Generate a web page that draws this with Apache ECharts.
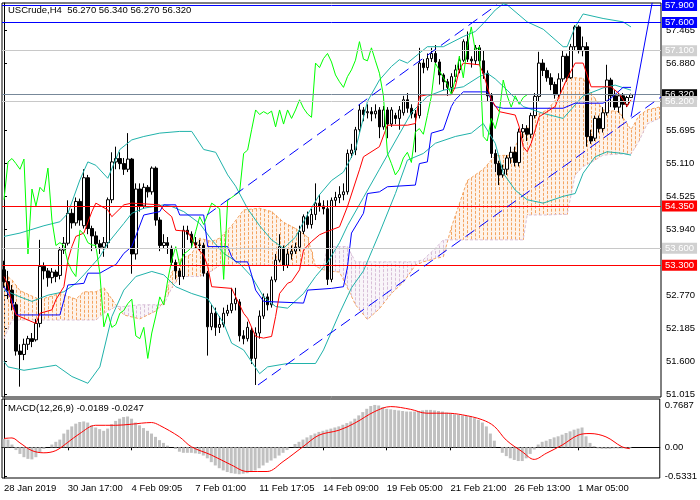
<!DOCTYPE html>
<html><head><meta charset="utf-8">
<script src="https://cdn.jsdelivr.net/npm/echarts@6/dist/echarts.min.js"></script>
<style>html,body{margin:0;padding:0;background:#fff}#c{width:700px;height:500px}</style>
</head><body><div id="c"></div>
<script>
// ---------- data ----------
const xLabels = ['28 Jan 2019','30 Jan 17:00','4 Feb 09:05','7 Feb 01:00','11 Feb 17:05','14 Feb 09:00','19 Feb 05:00','21 Feb 21:00','26 Feb 13:00','1 Mar 05:00'];
const open = [53.22,53.01,52.86,52.6,51.78,51.72,51.9,52.0,51.98,52.27,
53.28,53.2,53.08,53.18,53.12,53.57,53.69,54.22,54.05,54.43,
54.0,54.85,53.95,53.82,53.68,53.62,53.7,54.46,55.13,55.19,
55.1,55.0,55.18,53.5,54.65,54.35,54.68,54.6,55.02,54.1,
53.65,53.7,53.6,53.35,53.2,53.1,53.92,53.85,53.7,53.66,
53.65,53.16,52.21,52.45,52.2,52.25,52.45,52.5,52.62,52.65,
52.05,52.0,52.15,51.65,52.1,52.4,52.74,52.6,53.04,53.39,
53.6,53.3,53.5,53.55,53.62,53.9,54.16,54.02,54.2,54.4,
54.35,54.3,53.05,54.45,54.5,54.55,54.6,55.28,55.34,55.7,
56.05,56.0,56.02,55.98,56.05,55.75,56.05,55.8,55.95,55.9,
56.0,56.23,56.08,55.98,55.95,56.88,56.8,56.96,57.05,56.9,
56.67,56.55,56.45,56.64,56.76,56.93,57.26,56.95,56.92,57.15,
56.92,56.7,56.3,55.28,55.1,54.9,55.0,55.2,55.3,55.12,
55.66,55.72,55.62,55.95,56.29,56.88,56.75,56.62,56.5,56.32,
56.6,57.0,56.62,57.17,57.52,57.1,57.17,55.58,55.55,55.9,
55.72,56.0,56.58,56.3,56.1,56.3,56.15,56.27];
const close = [53.01,52.86,52.63,51.78,51.72,51.9,52.0,51.95,52.27,53.28,
53.2,53.08,53.18,53.1,53.57,53.69,54.22,54.05,54.43,54.1,
54.85,53.95,53.82,53.68,53.62,53.7,54.46,55.13,55.19,55.1,
55.0,55.18,53.5,54.65,54.35,54.68,54.6,55.02,54.1,53.65,
53.7,53.65,53.35,53.2,53.1,53.92,53.85,53.7,53.66,53.65,
53.16,52.21,52.45,52.2,52.25,52.45,52.5,52.62,52.7,52.05,
52.0,52.2,51.65,52.1,52.4,52.74,52.6,53.04,53.39,53.63,
53.3,53.5,53.55,53.62,53.9,54.16,54.02,54.2,54.4,54.35,
54.3,53.05,54.45,54.5,54.55,54.6,55.28,55.34,55.7,56.05,
55.97,56.02,55.98,56.03,55.75,56.05,55.8,56.05,55.9,56.05,
56.23,56.08,55.98,55.92,56.88,56.8,56.96,57.05,56.9,56.67,
56.55,56.45,56.64,56.76,56.93,57.26,56.95,56.92,57.15,56.92,
56.7,56.3,55.28,55.1,54.9,55.0,55.2,55.3,55.12,55.66,
55.72,55.62,55.95,56.29,56.88,56.75,56.62,56.5,56.32,56.6,
57.0,56.62,57.17,57.52,57.1,57.17,55.58,55.5,55.9,55.72,
56.0,56.58,56.3,56.1,56.3,56.15,56.27,56.32];
const high = [53.38,53.2,52.95,52.65,51.9,52.0,52.05,52.1,52.35,53.75,
53.35,53.25,53.25,53.22,53.62,53.8,54.45,54.3,54.5,54.48,
55.0,54.9,54.0,53.9,53.75,53.8,54.5,55.3,55.4,55.3,
55.2,55.64,55.2,54.75,54.75,54.75,54.72,55.05,55.05,54.15,
53.85,53.8,53.65,53.4,53.25,54.0,54.0,53.9,53.8,53.75,
53.7,53.2,52.6,52.55,52.4,52.55,52.6,52.9,52.9,52.7,
52.15,52.3,52.2,52.2,52.5,52.8,52.8,53.1,53.5,53.85,
53.65,53.6,53.65,53.7,54.0,54.2,54.25,54.3,54.75,54.55,
54.45,54.45,54.5,54.6,54.7,54.75,55.35,55.45,55.75,56.15,
56.1,56.15,56.1,56.15,56.1,56.12,56.1,56.1,56.0,56.12,
56.3,56.35,56.15,56.05,57.15,56.95,57.05,57.15,57.2,56.95,
56.7,56.6,56.7,56.85,57.0,57.3,57.44,57.0,57.2,57.2,
57.1,56.75,56.35,55.35,55.15,55.08,55.25,55.4,55.4,55.72,
55.8,55.78,56.0,56.35,57.08,56.95,56.8,56.7,56.55,56.7,
57.1,57.05,57.22,57.55,57.55,57.35,57.25,55.7,55.95,55.95,
56.1,56.85,56.62,56.4,56.35,56.35,56.3,56.34];
const low = [52.9,52.7,52.5,51.7,51.15,51.62,51.8,51.85,51.95,52.2,
53.05,52.92,52.98,53.0,53.05,53.5,53.65,53.95,54.0,54.0,
53.95,53.85,53.55,53.6,53.5,53.45,53.6,54.4,55.0,55.0,
54.9,54.95,53.15,53.4,54.25,54.3,54.5,54.55,54.0,53.55,
53.6,53.5,53.3,53.05,52.95,53.05,53.75,53.6,53.6,53.55,
53.1,51.7,52.15,52.05,52.1,52.2,52.4,52.45,52.5,51.95,
51.9,51.95,51.55,51.18,52.0,52.35,52.5,52.55,53.0,53.35,
53.2,53.25,53.4,53.5,53.55,53.85,53.95,53.95,54.1,54.25,
54.2,52.95,53.0,54.35,54.4,54.45,54.55,55.2,55.25,55.65,
55.85,55.9,55.85,55.9,55.55,55.7,55.55,55.75,55.8,55.7,
55.95,56.0,55.9,55.3,55.9,56.7,56.75,56.9,56.85,56.5,
56.4,56.3,56.35,56.55,56.7,56.9,56.9,56.8,56.85,56.85,
56.6,56.2,55.2,54.95,54.72,54.85,54.9,55.1,55.05,55.05,
55.55,55.5,55.55,55.9,56.2,56.65,56.55,56.4,56.25,56.28,
56.55,56.55,56.6,57.1,57.05,57.0,55.4,55.45,55.5,55.65,
55.65,55.95,56.1,56.05,56.0,55.9,56.1,56.27];

const bbUpper = [[0,53.81],[4,53.87],[10,54.0],[14,54.07],[16,54.22],[19,54.81],[21,55.13],[23,55.07],[26,54.84],[29,55.35],[32,55.52],[35,55.58],[39,55.64],[44,55.67],[47,55.67],[50,55.35],[53,55.3],[56,54.9],[58,54.7],[61,54.3],[64,54.0],[67,53.75],[70,53.6],[73,53.8],[76,54.2],[79,54.55],[82,54.8],[85,54.95],[88,55.35],[91,56.2],[94,56.58],[97,56.82],[99,56.94],[101,56.88],[106,57.17],[110,57.17],[115,57.35],[118,57.44],[120,57.58],[123,57.82],[125,57.93],[126,57.91],[131,57.61],[135,57.48],[140,57.17],[141,57.17],[143,57.52],[145,57.75],[150,57.67],[155,57.61],[157,57.52]];
const bbMiddle = [[0,52.86],[4,52.74],[7,52.66],[11,52.77],[15,52.83],[18,52.98],[20,53.13],[24,53.45],[26,53.69],[30,54.04],[32,54.22],[35,54.31],[40,54.37],[42,54.34],[45,54.25],[49,54.04],[52,53.75],[55,53.51],[59,53.33],[62,53.1],[65,52.74],[68,52.57],[71,52.54],[75,52.8],[78,53.1],[81,53.35],[84,53.7],[86,54.0],[90,54.5],[94,55.0],[98,55.5],[102,56.0],[106,56.29],[110,56.4],[115,56.46],[119,56.64],[121,56.7],[123,56.6],[126,56.4],[130,56.11],[135,55.99],[140,55.9],[145,56.3],[150,56.44],[153,56.49],[157,56.4]];
const bbLower = [[0,51.6],[1,51.5],[5,51.44],[13,51.53],[17,51.33],[21,51.21],[24,51.5],[27,52.39],[30,52.86],[33,53.1],[37,53.19],[40,53.13],[43,52.92],[47,52.8],[51,52.71],[55,52.27],[57,51.92],[60,51.8],[64,51.38],[66,51.5],[71,51.56],[78,51.56],[80,51.8],[84,52.45],[87,52.9],[90,53.2],[94,53.87],[98,54.57],[101,55.16],[105,55.28],[108,55.46],[113,55.58],[117,55.64],[120,55.81],[123,55.46],[125,54.93],[128,54.63],[131,54.46],[135,54.4],[140,54.52],[143,54.57],[145,54.93],[148,55.22],[151,55.31],[155,55.28],[157,55.25]];

const tenkan = [[0,53.1],[1,52.95],[2,52.6],[3,52.42],[8,52.27],[9,52.45],[12,52.51],[13,52.69],[15,52.92],[16,53.39],[17,53.63],[18,53.81],[20,53.87],[22,54.25],[23,54.4],[26,54.28],[27,54.16],[30,54.37],[32,54.4],[39,54.37],[40,54.28],[42,54.16],[43,53.92],[46,53.9],[48,53.63],[50,53.48],[51,53.28],[52,52.92],[57,52.89],[60,52.45],[61,52.36],[63,52.04],[65,52.01],[67,52.04],[68,52.39],[69,52.8],[71,52.98],[72,53.01],[74,53.22],[75,53.57],[77,53.72],[79,53.84],[81,53.9],[84,53.98],[86,54.34],[89,54.99],[90,55.22],[94,55.4],[96,55.78],[101,55.78],[103,55.81],[104,56.29],[106,56.32],[112,56.32],[113,56.46],[114,56.76],[115,56.88],[119,56.85],[120,56.7],[122,56.23],[124,56.02],[128,55.96],[129,55.75],[130,55.4],[131,55.31],[132,55.46],[134,55.93],[138,56.11],[139,56.29],[141,56.61],[143,56.88],[145,56.88],[147,56.46],[152,56.46],[154,56.34],[155,56.23],[156,56.11],[157,56.23]];
const kijun = [[0,52.92],[1,52.8],[2,52.68],[3,52.42],[14,52.42],[15,52.68],[16,52.95],[20,52.98],[21,53.16],[24,53.16],[27,53.28],[28,53.31],[30,53.51],[32,53.63],[35,54.19],[39,54.25],[40,54.37],[43,54.37],[44,54.19],[50,54.19],[51,53.63],[56,53.63],[57,53.45],[58,53.36],[61,53.36],[62,53.13],[63,52.86],[65,52.66],[75,52.63],[76,52.86],[82,52.89],[85,52.92],[86,53.27],[87,53.87],[90,54.22],[91,54.57],[94,54.6],[96,54.69],[103,54.72],[104,55.1],[106,55.13],[107,55.64],[110,55.7],[112,56.11],[113,56.23],[115,56.37],[121,56.37],[122,56.23],[123,56.11],[125,56.08],[140,56.08],[143,56.17],[150,56.17],[152,56.26],[155,56.45],[157,56.45]];

const cloudIdx = [0,2,4,9,14,18,20,23,25,28,30,34,38,40,42,44,47,49,52,54,57,60,64,67,70,73,76,78,80,81,84,86,88,91,94,97,100,103,105,108,110,112,116,120,123,127,130,131,133,136,139,141,143,145,147,150,154,157,159,161,164];
const senkouA = [53.15,53.04,52.85,52.69,52.8,52.7,52.83,52.83,52.9,52.6,52.42,52.35,52.49,52.65,53.17,53.4,53.5,53.78,53.72,53.78,54.0,54.28,54.31,54.25,54.06,53.95,53.8,53.28,53.22,53.2,53.18,52.9,52.6,52.34,52.53,52.8,53.0,53.3,53.36,53.42,53.45,53.97,54.8,55.0,55.24,55.25,55.7,55.72,55.95,56.05,56.3,56.62,56.62,56.61,56.35,56.05,56.02,55.7,55.95,56.05,56.1];
const senkouB = [52.0,52.33,52.33,52.33,52.33,52.33,52.33,52.33,52.45,52.57,52.57,52.6,52.6,52.6,52.9,53.1,53.1,53.1,53.2,53.3,53.3,53.3,53.3,53.3,53.3,53.3,53.3,53.3,53.3,53.63,53.63,53.63,53.36,53.36,53.36,53.36,53.36,53.36,53.4,53.6,53.75,53.75,53.75,53.75,53.75,53.75,53.75,54.19,54.19,54.19,54.2,54.2,54.9,55.05,55.12,55.25,55.27,55.27,55.5,55.8,55.9];

const macd = [0.15,0.14,0.05,-0.05,-0.12,-0.18,-0.21,-0.22,-0.18,-0.1,
-0.03,0.0,0.05,0.1,0.14,0.25,0.32,0.38,0.43,0.46,
0.47,0.45,0.40,0.36,0.33,0.30,0.34,0.42,0.48,0.52,
0.55,0.56,0.52,0.45,0.40,0.35,0.30,0.25,0.19,0.13,
0.08,0.03,0.0,-0.03,-0.08,-0.1,-0.1,-0.1,-0.11,-0.12,
-0.15,-0.2,-0.27,-0.33,-0.38,-0.42,-0.45,-0.47,-0.48,-0.49,
-0.48,-0.47,-0.45,-0.42,-0.38,-0.33,-0.28,-0.24,-0.2,-0.15,
-0.1,-0.05,0.0,0.06,0.1,0.14,0.18,0.22,0.25,0.28,
0.3,0.32,0.34,0.36,0.38,0.41,0.44,0.47,0.52,0.58,
0.64,0.7,0.75,0.77,0.76,0.73,0.7,0.69,0.68,0.67,
0.66,0.65,0.65,0.65,0.66,0.67,0.68,0.68,0.67,0.66,
0.65,0.63,0.62,0.6,0.59,0.58,0.57,0.56,0.53,0.5,
0.45,0.38,0.25,0.12,0.0,-0.1,-0.16,-0.2,-0.23,-0.25,
-0.25,-0.2,-0.12,-0.04,0.05,0.1,0.12,0.15,0.18,0.2,
0.23,0.26,0.29,0.32,0.34,0.36,0.2,0.08,0.02,-0.02,
-0.03,-0.03,-0.03,-0.02,-0.02,-0.02,-0.02,-0.0189];
const signalIdx = [0,2,4,7,10,13,16,19,23,28,32,37,39,44,47,52,57,61,66,70,75,79,84,88,93,97,102,106,111,115,120,123,126,130,133,136,140,144,147,151,155,157];
const signalVal = [0.16,0.17,0.08,-0.06,-0.1,-0.06,0.09,0.25,0.4,0.4,0.42,0.45,0.4,0.19,0.01,-0.14,-0.32,-0.44,-0.44,-0.26,0.01,0.22,0.31,0.44,0.65,0.74,0.69,0.62,0.62,0.59,0.5,0.38,0.13,-0.08,-0.22,-0.11,0.04,0.22,0.25,0.19,0.01,-0.0247];

const levelValues = [57.9, 57.6, 57.1, 56.32, 56.2, 54.35, 53.6, 53.3];
const priceTicks = [51.015, 51.6, 52.185, 52.77, 53.94, 54.525, 55.11, 55.695, 56.88, 57.465];
const macdTicks = [0.7687, 0, -0.5331];
const macdTickText = ['0.7687', '0.00', '-0.5331'];
const channelUpper = [[50.8, 54.19], [123.4, 57.91]];
const channelLower = [[63.6, 51.18], [164.5, 56.28]];
const steepLine = [[157, 55.93], [162.3, 57.95]];
const headerText = 'USCrude,H4  56.270 56.340 56.270 56.320';
const macdText = 'MACD(12,26,9) -0.0189 -0.0247';

// ---------- styles / layout ----------
const N = 165;
const FONT = 'Liberation Sans, Arial, sans-serif';
const FS = 9.5;
const levelLine = ['#0000ff','#0000ff','#c8c8c8','#778899','#c8c8c8','#ff0000','#c8c8c8','#ff0000'];
const levelBox  = ['#0000ff','#0000ff','#d0d0d0','#000000','#d0d0d0','#ff0000','#d0d0d0','#ff0000'];
const ORANGE = '#f4a460', THISTLE = '#d8bfd8';
const ORANGE_BG = 'rgba(244,164,96,0.13)', THISTLE_BG = 'rgba(216,191,216,0.16)';

const cats = Array.from({length: N}, (_, i) => String(i));
const showTick = i => i % 16 === 0 && i / 16 < xLabels.length;

function linePairs(pairs, color, extra) {
  return Object.assign({
    type: 'line', xAxisIndex: 1, yAxisIndex: 0, data: pairs,
    showSymbol: false, symbol: 'none', silent: true, z: 4,
    lineStyle: {color: color, width: 1}
  }, extra || {});
}

const chart = echarts.init(document.getElementById('c'));
chart.setOption({
  animation: false,
  backgroundColor: '#fff',
  textStyle: {fontFamily: FONT},
  graphic: [
    {type: 'text', left: 8, top: 5, z: 100, style: {text: headerText, font: FS + 'px ' + FONT, fill: '#000'}},
    {type: 'text', left: 8, top: 403, z: 100, style: {text: macdText, font: FS + 'px ' + FONT, fill: '#000'}}
  ],
  grid: [
    {left: 2, top: 3, width: 659, height: 394, show: true, borderColor: '#000', borderWidth: 1, backgroundColor: '#fff'},
    {left: 2, top: 399, width: 659, height: 79, show: true, borderColor: '#000', borderWidth: 1, backgroundColor: '#fff'}
  ],
  xAxis: [
    {type: 'category', gridIndex: 0, data: cats, boundaryGap: true, show: false},
    {type: 'value', gridIndex: 0, min: -0.5, max: N - 0.5, show: false},
    {type: 'category', gridIndex: 1, data: cats, boundaryGap: true,
      axisLine: {show: true, lineStyle: {color: '#000'}},
      axisTick: {show: true, interval: showTick, alignWithLabel: true, length: 3, lineStyle: {color: '#000'}},
      axisLabel: {show: true, interval: showTick, formatter: (v, i) => xLabels[i / 16] || '', align: 'left', margin: 5,
        color: '#000', fontSize: FS, fontFamily: FONT},
      splitLine: {show: false}},
    {type: 'value', gridIndex: 1, min: -0.5, max: N - 0.5, show: false}
  ],
  yAxis: [
    {type: 'value', gridIndex: 0, position: 'right', min: 50.967, max: 57.944, scale: true,
      axisLine: {show: true, lineStyle: {color: '#000'}},
      axisTick: {show: true, length: 3, customValues: priceTicks, lineStyle: {color: '#000'}},
      axisLabel: {show: true, customValues: priceTicks, formatter: v => v.toFixed(3), margin: 5,
        color: '#000', fontSize: FS, fontFamily: FONT},
      splitLine: {show: false}},
    {type: 'value', gridIndex: 1, position: 'right', min: -0.558, max: 0.878,
      axisLine: {show: true, lineStyle: {color: '#000'}},
      axisTick: {show: true, length: 3, customValues: macdTicks, lineStyle: {color: '#000'}},
      axisLabel: {show: true, customValues: macdTicks,
        formatter: v => macdTickText[macdTicks.findIndex(t => Math.abs(t - v) < 1e-6)] || '',
        margin: 5, color: '#000', fontSize: FS, fontFamily: FONT},
      splitLine: {show: false}}
  ],
  series: [
    // Ichimoku cloud: faint tint plus vertical dashed hatching, one stroke per bar
    {
      type: 'custom', xAxisIndex: 1, yAxisIndex: 0, silent: true, z: 1, clip: true,
      data: cloudIdx.slice(0, -1).map((x, k) => [x, senkouA[k]]),
      renderItem: function (params, api) {
        const k = params.dataIndex;
        const x0 = cloudIdx[k], x1 = cloudIdx[k + 1];
        const a0 = senkouA[k], a1 = senkouA[k + 1], b0 = senkouB[k], b1 = senkouB[k + 1];
        const d0 = a0 - b0, d1 = a1 - b1;
        const children = [];
        const polys = [];
        if (d0 * d1 < 0) {
          const tc = d0 / (d0 - d1);
          const xm = x0 + tc * (x1 - x0), ym = a0 + tc * (a1 - a0);
          polys.push({pts: [[x0, a0], [xm, ym], [x0, b0]], s: d0});
          polys.push({pts: [[xm, ym], [x1, a1], [x1, b1]], s: d1});
        } else {
          polys.push({pts: [[x0, a0], [x1, a1], [x1, b1], [x0, b0]], s: d0 + d1});
        }
        polys.forEach(p => children.push({
          type: 'polygon', shape: {points: p.pts.map(q => api.coord(q))},
          style: {fill: p.s >= 0 ? ORANGE_BG : THISTLE_BG, stroke: null}
        }));
        const last = k === cloudIdx.length - 2;
        for (let j = Math.ceil(x0); last ? j <= x1 : j < x1; j++) {
          const t = (j - x0) / (x1 - x0);
          const a = a0 + t * (a1 - a0);
          const b = b0 + t * (b1 - b0);
          const pa = api.coord([j, a]), pb = api.coord([j, b]);
          const px = Math.round(pa[0]) + 0.5;
          children.push({
            type: 'line',
            shape: {x1: px, y1: pa[1], x2: px, y2: pb[1]},
            style: {stroke: a >= b ? ORANGE : THISTLE, lineWidth: 1, lineDash: [3, 1.5]}
          });
        }
        return {type: 'group', children: children};
      }
    },
    linePairs(cloudIdx.map((x, k) => [x, senkouA[k]]), ORANGE, {z: 2, lineStyle: {color: ORANGE, width: 1, type: [3, 2]}}),
    linePairs(cloudIdx.map((x, k) => [x, senkouB[k]]), THISTLE, {z: 2, lineStyle: {color: THISTLE, width: 1, type: [3, 2]}}),
    // candles + horizontal levels
    {
      type: 'candlestick', xAxisIndex: 0, yAxisIndex: 0, z: 3, silent: true,
      barWidth: 3,
      data: open.map((o, i) => [o, close[i], low[i], high[i]]),
      itemStyle: {color: '#ffffff', color0: '#000000', borderColor: '#000000', borderColor0: '#000000', borderWidth: 1},
      markLine: {
        silent: true, symbol: ['none', 'none'], animation: false,
        data: levelValues.map((v, k) => ({
          yAxis: v,
          lineStyle: {color: levelLine[k], width: 1, type: 'solid'},
          label: {show: true, position: 'end', distance: 1, formatter: p => Number(p.value).toFixed(3),
            color: '#fff', backgroundColor: levelBox[k], padding: [1, 3, 0, 3], fontSize: FS, fontFamily: FONT, lineHeight: 10}
        }))
      }
    },
    // Bollinger
    linePairs(bbUpper, '#20b2aa'),
    linePairs(bbMiddle, '#20b2aa'),
    linePairs(bbLower, '#20b2aa'),
    // Ichimoku lines
    linePairs(kijun, '#0000ff'),
    linePairs(tenkan, '#ff0000'),
    linePairs(close.slice(26).map((c, j) => [j, c]), '#00ff00'),
    // drawn trend lines
    linePairs(channelUpper, '#0000ff', {z: 5, lineStyle: {color: '#0000ff', width: 1, type: [11, 6]}}),
    linePairs(channelLower, '#0000ff', {z: 5, lineStyle: {color: '#0000ff', width: 1, type: [11, 6]}}),
    linePairs(steepLine, '#0000ff', {z: 5}),
    // MACD
    {type: 'bar', xAxisIndex: 2, yAxisIndex: 1, data: macd, barWidth: 3, silent: true,
      itemStyle: {color: '#c0c0c0'}},
    {type: 'line', xAxisIndex: 3, yAxisIndex: 1, data: signalIdx.map((x, k) => [x, signalVal[k]]),
      smooth: 0.35, showSymbol: false, symbol: 'none', silent: true, z: 4,
      lineStyle: {color: '#ff0000', width: 1}}
  ]
});
</script></body></html>
